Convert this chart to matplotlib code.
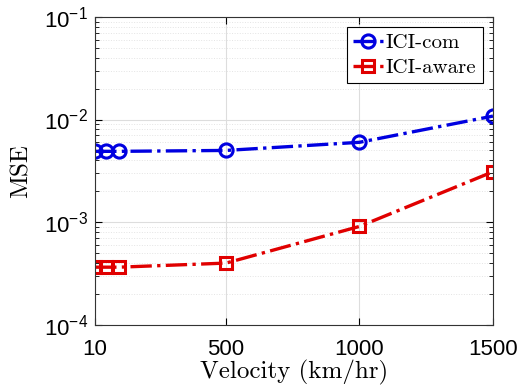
import matplotlib
matplotlib.use("Agg")
import matplotlib.pyplot as plt
from matplotlib.ticker import LogLocator, NullFormatter

# data
velocity = [10, 50, 100, 500, 1000, 1500]
mse_com = [4.9e-3, 4.9e-3, 4.9e-3, 5.0e-3, 6.0e-3, 1.08e-2]
mse_aware = [3.65e-4, 3.65e-4, 3.65e-4, 4.0e-4, 9.1e-4, 3.1e-3]
xticks = [10, 500, 1000, 1500]

plt.rcParams['mathtext.fontset'] = 'custom'
plt.rcParams['mathtext.rm'] = 'Liberation Sans'
plt.rcParams['mathtext.it'] = 'Liberation Sans:italic'
plt.rcParams['font.family'] = ['Liberation Sans', 'DejaVu Sans']

fig = plt.figure(figsize=(5.2, 3.91), dpi=100)
ax = fig.add_axes([0.183, 0.169, 0.765, 0.788])

ax.semilogy(velocity, mse_com, linestyle='-.', color='#0000e0', lw=2.4,
            marker='o', ms=9.5, mfc='none', mew=2.2, label='ICI-com')
ax.semilogy(velocity, mse_aware, linestyle='-.', color='#e00000', lw=2.4,
            marker='s', ms=8.5, mfc='none', mew=2.2, label='ICI-aware')

ax.set_xlim(10, 1500)
ax.set_ylim(1e-4, 1e-1)
ax.set_xticks(xticks)
ax.set_xticklabels([str(t) for t in xticks])
ax.yaxis.set_minor_locator(LogLocator(base=10, subs=range(2, 10)))
ax.yaxis.set_minor_formatter(NullFormatter())

ax.grid(True, which='major', color='#dddddd', lw=0.8)
ax.grid(True, which='minor', axis='y', color='#e4e4e4', lw=0.7, linestyle=':')
ax.tick_params(which='both', direction='in', top=True, right=True, labelsize=16)
ax.tick_params(which='major', length=5)
ax.tick_params(which='minor', length=3)
ax.tick_params(axis='x', pad=10)
ax.tick_params(axis='y', pad=5)
for s in ax.spines.values():
    s.set_color('#333333')

ax.set_xlabel('Velocity (km/hr)', family='cmr10', fontsize=18, labelpad=0)
ax.set_ylabel('MSE', family='cmr10', fontsize=18, labelpad=8)

leg = ax.legend(loc='upper right', prop={'family': 'cmr10', 'size': 15},
                fancybox=False, framealpha=1, edgecolor='black',
                handlelength=1.4, handletextpad=0.15, borderpad=0.3,
                labelspacing=0.3, borderaxespad=0.5)
leg.get_frame().set_linewidth(0.8)

fig.savefig('out.png', dpi=100)
